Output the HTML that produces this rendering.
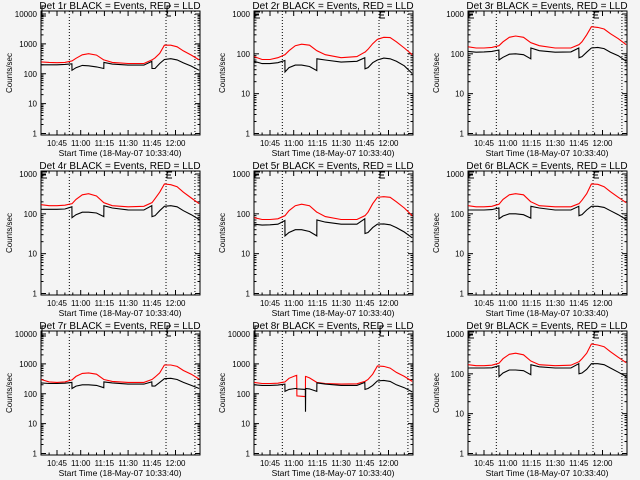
<!DOCTYPE html>
<html><head><meta charset="utf-8"><style>
html,body{margin:0;padding:0;background:#f4f4f4;}
svg{display:block;font-family:"Liberation Sans",sans-serif;}
</style></head><body>
<svg id="chart" width="640" height="480" viewBox="0 0 640 480">
<rect width="640" height="480" fill="#f4f4f4"/>
</svg>
<script>
const times = [-10,-5,0,5,9.4,9.5,12,16,20,25,29.6,29.7,35,45,55,60,60.1,62,65,68,72,76,80,85,90];
const times8 = [-10,-5,0,5,9.4,9.5,12,16,16.9,17,22.4,22.5,22.6,25,29.6,29.7,35,45,55,60,60.1,62,65,68,72,76,80,85,90];
const red1 = [250,240,235,240,270,270,330,430,470,420,290,290,240,220,220,290,290,340,480,900,900,800,580,420,290];
const blk1 = [200,200,200,205,215,130,160,190,185,170,150,240,210,195,195,260,150,150,220,300,320,290,230,180,130];
const red2 = [85,72,72,80,95,95,120,160,175,165,120,120,95,80,85,110,110,130,180,230,260,255,200,140,95];
const blk2 = [65,57,57,60,68,35,45,52,52,48,38,75,70,62,65,80,42,45,60,70,78,75,65,50,32];
const red3 = [150,140,140,145,160,160,200,260,280,260,190,190,160,140,140,170,170,200,300,480,460,420,320,240,170];
const blk3 = [115,110,112,115,125,70,82,98,100,95,75,140,120,110,112,140,80,85,110,140,145,135,110,90,65];
const red4 = [170,160,160,165,180,180,230,300,320,280,190,190,160,150,155,190,190,240,350,560,540,480,350,250,180];
const blk4 = [130,130,130,132,150,80,95,110,110,105,85,160,140,125,125,160,85,90,120,155,160,150,120,95,72];
const red5 = [80,72,72,75,90,90,120,160,175,160,110,110,85,72,72,90,90,110,180,260,270,260,200,140,90];
const blk5 = [55,52,53,55,68,28,34,40,40,36,28,70,62,55,55,75,32,34,45,55,56,53,45,35,25];
const red6 = [160,150,150,155,175,175,230,300,320,300,200,200,160,150,150,180,180,220,320,560,550,480,360,260,190];
const blk6 = [125,125,125,128,140,75,88,100,100,95,78,155,140,125,125,155,90,95,125,155,155,145,120,95,72];
const red7 = [300,250,240,250,290,290,380,480,500,450,300,300,260,240,240,300,300,360,500,920,920,820,600,450,310];
const blk7 = [230,220,220,225,240,150,180,200,200,190,160,250,230,210,210,250,180,180,240,320,330,300,240,190,150];
const red8 = [240,220,220,225,250,250,330,400,410,85,80,380,380,340,240,240,220,210,215,260,260,300,450,850,820,720,520,380,260];
const blk8 = [200,190,190,195,210,120,140,150,150,145,140,25,150,145,120,230,210,190,190,240,140,150,190,270,280,260,200,160,115];
const red9 = [170,160,160,165,185,185,240,310,330,300,210,210,170,160,165,200,200,240,330,560,530,480,360,260,190];
const blk9 = [140,140,140,142,160,85,105,125,125,120,95,170,150,140,140,180,100,105,130,180,180,170,140,110,85];
const xTickLabels = ["10:45","11:00","11:15","11:30","11:45","12:00"];
const xTickTimes = [0,15,30,45,60,75];
const markerTimes = [7.8,69,87.3];

const panels = [
 {n:1,t:times,r:red1,b:blk1,dec:4},{n:2,t:times,r:red2,b:blk2,dec:3},{n:3,t:times,r:red3,b:blk3,dec:3},
 {n:4,t:times,r:red4,b:blk4,dec:3},{n:5,t:times,r:red5,b:blk5,dec:3},{n:6,t:times,r:red6,b:blk6,dec:3},
 {n:7,t:times,r:red7,b:blk7,dec:4},{n:8,t:times8,r:red8,b:blk8,dec:4},{n:9,t:times,r:red9,b:blk9,dec:3}];
const NS="http://www.w3.org/2000/svg";
const svg=document.getElementById('chart');
function mk(tag,attrs,parent){const e=document.createElementNS(NS,tag);for(const k in attrs)e.setAttribute(k,attrs[k]);parent.appendChild(e);return e;}
const L=41,R=200,T=11,B=135,Y1=133.5;
function xs(t){return 57+t*23.7/15;}
panels.forEach((p,i)=>{
 const ox=[0,213,427][i%3], oy=[0,160,320][Math.floor(i/3)];
 const g=mk('g',{transform:`translate(${ox},${oy})`},svg);
 
 
 const per=(Y1-14)/p.dec;
 const ys=v=>Y1-per*Math.log10(v);
 const title=mk('text',{x:120,y:9,'font-size':10,'text-anchor':'middle',fill:'#000'},g);
 title.textContent=`Det ${p.n}r BLACK = Events, RED = LLD`;
 
 
 const box=mk('rect',{x:L,y:T,width:R-L,height:B-T,fill:'none',stroke:'#000','stroke-width':1},g);
 
 
 for(let d=0;d<=p.dec;d++){
  const y=ys(Math.pow(10,d));
  mk('line',{x1:L,x2:L+5,y1:y,y2:y,stroke:'#000'},g);
  mk('line',{x1:R-5,x2:R,y1:y,y2:y,stroke:'#000'},g);
  const lb=mk('text',{x:37,y:y+3,'font-size':8,'text-anchor':'end'},g);
  lb.textContent=String(Math.pow(10,d));
  
  
  if(d<p.dec)for(let m=2;m<10;m++){const yy=ys(m*Math.pow(10,d));
   mk('line',{x1:L,x2:L+2.5,y1:yy,y2:yy,stroke:'#000'},g);
   mk('line',{x1:R-2.5,x2:R,y1:yy,y2:yy,stroke:'#000'},g);}
 }
 const yt=mk('text',{x:0,y:0,'font-size':8,'text-anchor':'middle',transform:'translate(12,73) rotate(-90)'},g);
 yt.textContent='Counts/sec';
 
 
 for(let t=-5;t<=85;t+=5){const x=xs(t);const maj=(t%15===0);
  mk('line',{x1:x,x2:x,y1:B,y2:B-(maj?5:2.5),stroke:'#000'},g);
  mk('line',{x1:x,x2:x,y1:T,y2:T+(maj?5:2.5),stroke:'#000'},g);}
 xTickLabels.forEach((s,k)=>{const lb=mk('text',{x:xs(xTickTimes[k]),y:146,'font-size':8,'text-anchor':'middle'},g);
  lb.textContent=s;
  
  });
 const xt=mk('text',{x:120,y:156,'font-size':8.5,'text-anchor':'middle'},g);
 xt.textContent='Start Time (18-May-07 10:33:40)';
 
 
 markerTimes.forEach(t=>{const l=mk('line',{x1:xs(t),x2:xs(t),y1:T,y2:B,stroke:'#000','stroke-dasharray':'1,2'},g);
  
  });
 [L+1,xs(69)+1].forEach(x=>{
  const d=p.dec===4?`M${x+4},6 H${x} V16 H${x+4}`:`M${x+5},12 H${x} V18 H${x+5} M${x},15 H${x+4}`;
  const e=mk('path',{d:d,fill:'none',stroke:'#000'},g);
  
  });
 const pts=arr=>arr.map((v,k)=>xs(p.t[k]).toFixed(1)+','+ys(v).toFixed(1)).join(' ');
 const rl=mk('polyline',{points:pts(p.r),fill:'none',stroke:'#ff0000','stroke-width':1.1},g);
 
 
 const bl=mk('polyline',{points:pts(p.b),fill:'none',stroke:'#000','stroke-width':1.1},g);
 
 
});
</script>
</body></html>
